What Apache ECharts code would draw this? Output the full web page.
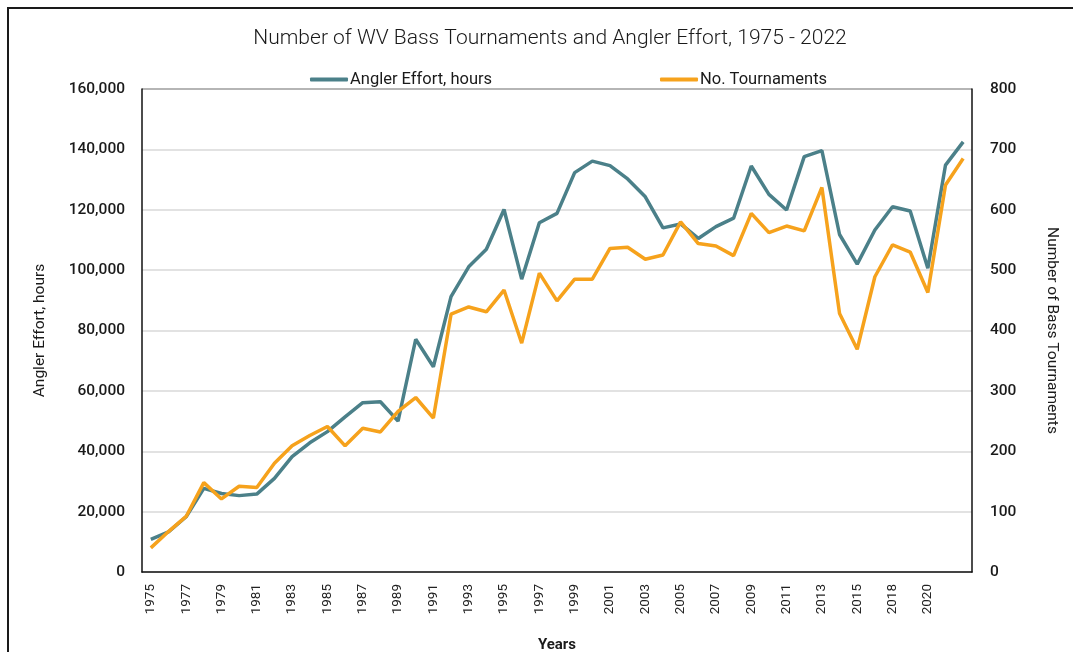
<!DOCTYPE html>
<html>
<head>
<meta charset="utf-8">
<title>WV Bass Tournaments</title>
<script src="https://cdn.jsdelivr.net/npm/echarts@6/dist/echarts.min.js"></script>
<style>
  html, body { margin: 0; padding: 0; background: #fff; }
  #chart { width: 1073px; height: 652px; }
</style>
</head>
<body>
<div id="chart"></div>
<script>
// years (2016 not in the source series)
var years = ['1975', '1976', '1977', '1978', '1979', '1980', '1981', '1982', '1983', '1984',
  '1985', '1986', '1987', '1988', '1989', '1990', '1991', '1992', '1993', '1994',
  '1995', '1996', '1997', '1998', '1999', '2000', '2001', '2002', '2003', '2004',
  '2005', '2006', '2007', '2008', '2009', '2010', '2011', '2012', '2013', '2014',
  '2015', '2017', '2018', '2019', '2020', '2021', '2022']

// angler effort, hours (left axis)
var anglerEffort = [10800, 13300, 18300, 27700, 26000, 25300, 25800, 31000, 38200, 42800,
  46500, 51400, 56100, 56400, 50000, 77100, 68000, 91200, 101100, 106900,
  120100, 97000, 115700, 118800, 132300, 136100, 134600, 130200, 124300, 114000,
  115300, 110500, 114400, 117200, 134500, 125100, 119900, 137600, 139600, 111800,
  102000, 113300, 121000, 119600, 100600, 134800, 142500]

// number of tournaments (right axis)
var tournaments = [40, 67, 92, 148, 121, 142, 140, 180, 209, 226,
  241, 209, 238, 232, 266, 289, 255, 427, 439, 431,
  467, 379, 495, 449, 485, 485, 536, 538, 518, 525,
  580, 544, 540, 524, 594, 562, 573, 565, 637, 428,
  369, 489, 542, 530, 463, 641, 685]

var leftTicks = { min: 0, max: 160000, interval: 20000 }
var rightTicks = { min: 0, max: 800, interval: 100 }

var teal = '#4b8089'
var orange = '#f6a21c'
var font = 'Roboto, "Noto Sans", sans-serif'

var chart = echarts.init(document.getElementById('chart'))

var legendText = { fontFamily: font, fontSize: 16.5, color: '#1a1a1a', padding: [0, 0, 0, -3] }

chart.setOption({
  animation: false,
  textStyle: { fontFamily: font },
  graphic: [{
    type: 'rect',
    shape: { x: 8, y: 8, width: 1100, height: 700 },
    style: { fill: 'none', stroke: '#1a1a1a', lineWidth: 2 },
    silent: true
  }, {
    // box edge above the plot
    type: 'line',
    shape: { x1: 142, y1: 89, x2: 972, y2: 89 },
    style: { stroke: '#111', lineWidth: 1.5 },
    silent: true
  }],
  title: {
    text: 'Number of WV Bass Tournaments and Angler Effort, 1975 - 2022',
    left: 545,
    textAlign: 'center',
    top: 23,
    textStyle: { fontFamily: font, fontSize: 21, fontWeight: 300, color: '#1a1a1a' }
  },
  legend: [{
    left: 305,
    top: 66,
    itemWidth: 38,
    itemHeight: 4,
    icon: 'roundRect',
    textStyle: legendText,
    data: ['Angler Effort, hours']
  }, {
    left: 655,
    top: 66,
    itemWidth: 38,
    itemHeight: 4,
    icon: 'roundRect',
    textStyle: legendText,
    data: ['No. Tournaments']
  }],
  grid: { left: 142, right: 101, top: 89, bottom: 80, outerBoundsMode: 'none' },
  xAxis: [{
    type: 'category',
    data: years,
    position: 'bottom',
    name: 'Years',
    nameLocation: 'middle',
    nameGap: 66,
    nameTextStyle: { fontFamily: font, fontSize: 15, fontWeight: 'bold', color: '#1a1a1a' },
    axisLine: { lineStyle: { color: '#111', width: 1.5 } },
    axisTick: { interval: 0, length: 5, lineStyle: { color: '#111', width: 1.2 } },
    axisLabel: {
      interval: function (i) { return i % 2 === 0 && i < years.length - 1 },
      rotate: 90, margin: 12, fontSize: 13.5, color: '#222'
    }
  }, {
    // inner half of the crossing ticks
    type: 'category',
    data: years,
    position: 'bottom',
    axisLine: { show: false },
    axisTick: { interval: 0, inside: true, length: 5, lineStyle: { color: '#111', width: 1.2 } },
    axisLabel: { show: false }
  }],
  yAxis: [{
    type: 'value',
    min: leftTicks.min,
    max: leftTicks.max,
    interval: leftTicks.interval,
    name: 'Angler Effort, hours',
    nameLocation: 'middle',
    nameGap: 94,
    nameTextStyle: { fontFamily: font, fontSize: 15.5, color: '#1a1a1a' },
    axisLine: { show: true, lineStyle: { color: '#111', width: 1.5 } },
    axisTick: { show: false },
    axisLabel: {
      margin: 17, fontSize: 15.5, fontWeight: 500, color: '#1a1a1a',
      formatter: function (v) { return v.toLocaleString('en-US') }
    },
    splitLine: { lineStyle: { color: '#d9d9d9', width: 1.5 } }
  }, {
    type: 'value',
    min: rightTicks.min,
    max: rightTicks.max,
    interval: rightTicks.interval,
    name: 'Number of Bass Tournaments',
    nameLocation: 'middle',
    nameRotate: -90,
    nameGap: 72,
    nameTextStyle: { fontFamily: font, fontSize: 15.5, color: '#1a1a1a' },
    axisLine: { show: true, lineStyle: { color: '#111', width: 1.5 } },
    axisTick: { show: false },
    axisLabel: { margin: 18, fontSize: 15.5, fontWeight: 500, color: '#1a1a1a' },
    splitLine: { show: false }
  }],
  series: [{
    name: 'Angler Effort, hours',
    type: 'line',
    yAxisIndex: 0,
    data: anglerEffort,
    symbol: 'none',
    itemStyle: { color: teal },
    lineStyle: { color: teal, width: 3.5 }
  }, {
    name: 'No. Tournaments',
    type: 'line',
    yAxisIndex: 1,
    data: tournaments,
    symbol: 'none',
    itemStyle: { color: orange },
    lineStyle: { color: orange, width: 3.5 }
  }]
})
</script>
</body>
</html>
